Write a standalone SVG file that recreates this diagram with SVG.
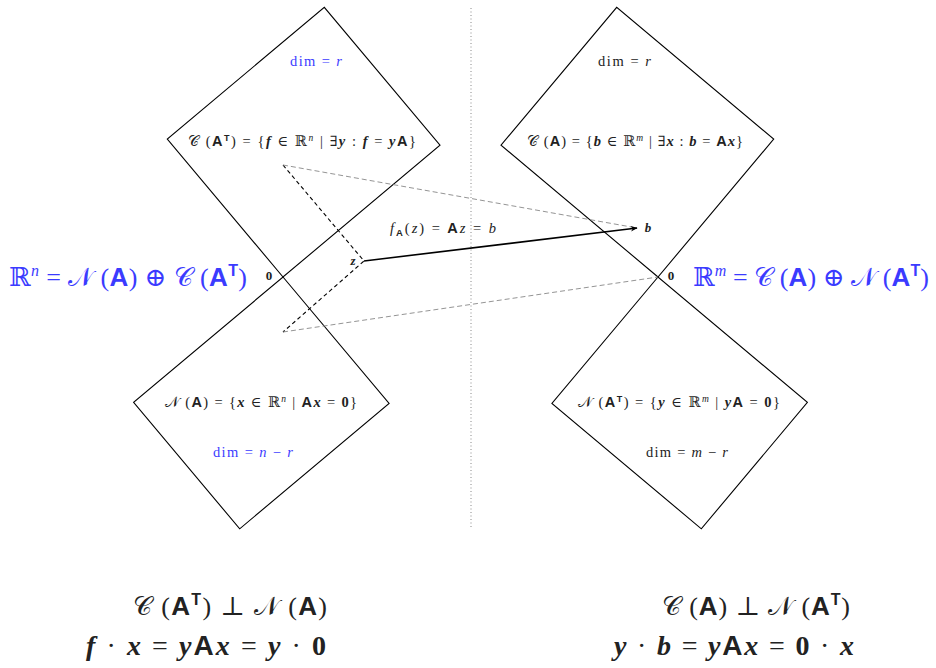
<svg xmlns="http://www.w3.org/2000/svg" width="936" height="668" viewBox="0 0 936 668">
<style>
.m{font-family:"Liberation Serif","DejaVu Serif",serif;fill:#222}
.b{fill:#3b3bff}
.A{font-family:"Liberation Sans","DejaVu Sans",sans-serif;font-weight:bold;font-style:normal}
.v{font-style:italic;font-weight:bold}
.i{font-style:italic}
.bd{font-weight:bold}
.shape{fill:none;stroke:#000;stroke-width:1.1}
</style>
<defs>
<marker id="ah" viewBox="0 0 10 10" refX="9" refY="5" markerWidth="7" markerHeight="7" orient="auto" markerUnits="userSpaceOnUse">
<path d="M0,1 L10,5 L0,9 L3,5 Z" fill="#000"/>
</marker>
</defs>
<rect width="936" height="668" fill="#fff"/>
<line x1="471" y1="8" x2="471" y2="528" stroke="#888" stroke-width="1" stroke-dasharray="1,2.5"/>

<g id="rowspace">
<polygon class="shape" points="283,277 167.3,139.1 324.3,7.3 440,145.2"/>
<text class="m b" x="316" y="66" font-size="14.5" text-anchor="middle" textLength="52" lengthAdjust="spacing">dim = <tspan class="i">r</tspan></text>
<text class="m" x="302" y="146" font-size="14.5" text-anchor="middle" textLength="228" lengthAdjust="spacing">𝒞 (<tspan class="A">A</tspan><tspan class="A" font-size="9" dy="-5">T</tspan><tspan dy="5">) = {</tspan><tspan class="v">f</tspan> ∈ ℝ<tspan class="i" font-size="9.5" dy="-5">n</tspan><tspan dy="5"> | ∃</tspan><tspan class="v">y</tspan> : <tspan class="v">f</tspan> = <tspan class="v">y</tspan><tspan class="A">A</tspan>}</text>
</g>

<g id="nullspace">
<polygon class="shape" points="283,277 389.1,403.4 239.7,528.8 133.6,402.4"/>
<text class="m" x="261" y="407" font-size="14.5" text-anchor="middle" textLength="192" lengthAdjust="spacing">𝒩 (<tspan class="A">A</tspan>) = {<tspan class="v">x</tspan> ∈ ℝ<tspan class="i" font-size="9.5" dy="-5">n</tspan><tspan dy="5"> | </tspan><tspan class="A">A</tspan><tspan class="v">x</tspan> = <tspan class="bd">0</tspan>}</text>
<text class="m b" x="253" y="457" font-size="14.5" text-anchor="middle" textLength="80" lengthAdjust="spacing">dim = <tspan class="i">n</tspan> − <tspan class="i">r</tspan></text>
</g>

<g id="colspace">
<polygon class="shape" points="658,277 501,145.2 616.7,7.3 773.7,139.1"/>
<text class="m" x="624.5" y="66" font-size="14.5" text-anchor="middle" textLength="53" lengthAdjust="spacing">dim = <tspan class="i">r</tspan></text>
<text class="m" x="635" y="146" font-size="14.5" text-anchor="middle" textLength="216" lengthAdjust="spacing">𝒞 (<tspan class="A">A</tspan>) = {<tspan class="v">b</tspan> ∈ ℝ<tspan class="i" font-size="9.5" dy="-5">m</tspan><tspan dy="5"> | ∃</tspan><tspan class="v">x</tspan> : <tspan class="v">b</tspan> = <tspan class="A">A</tspan><tspan class="v">x</tspan>}</text>
</g>

<g id="leftnullspace">
<polygon class="shape" points="658,277 551.9,403.4 701.3,528.8 807.4,402.4"/>
<text class="m" x="679" y="407" font-size="14.5" text-anchor="middle" textLength="202" lengthAdjust="spacing">𝒩 (<tspan class="A">A</tspan><tspan class="A" font-size="9" dy="-5">T</tspan><tspan dy="5">) = {</tspan><tspan class="v">y</tspan> ∈ ℝ<tspan class="i" font-size="9.5" dy="-5">m</tspan><tspan dy="5"> | </tspan><tspan class="v">y</tspan><tspan class="A">A</tspan> = <tspan class="bd">0</tspan>}</text>
<text class="m" x="687" y="457" font-size="14.5" text-anchor="middle" textLength="82" lengthAdjust="spacing">dim = <tspan class="i">m</tspan> − <tspan class="i">r</tspan></text>
</g>

<g id="origins">
<text class="m bd" x="269" y="280" font-size="13" text-anchor="middle">0</text>
<text class="m bd" x="671" y="280" font-size="13" text-anchor="middle">0</text>
<text class="m v" x="353" y="265" font-size="13" text-anchor="middle">z</text>
<text class="m v" x="648" y="232" font-size="13" text-anchor="middle">b</text>
</g>

<g id="domainlabel">
<text class="m b" x="128" y="286" font-size="26" text-anchor="middle" textLength="238" lengthAdjust="spacing">ℝ<tspan class="i" font-size="16" dy="-10">n</tspan><tspan dy="10"> = 𝒩 (</tspan><tspan class="A">A</tspan>) ⊕ 𝒞 (<tspan class="A">A</tspan><tspan class="A" font-size="16" dy="-10">T</tspan><tspan dy="10">)</tspan></text>
</g>
<g id="codomainlabel">
<text class="m b" x="811" y="286" font-size="26" text-anchor="middle" textLength="236" lengthAdjust="spacing">ℝ<tspan class="i" font-size="16" dy="-10">m</tspan><tspan dy="10"> = 𝒞 (</tspan><tspan class="A">A</tspan>) ⊕ 𝒩 (<tspan class="A">A</tspan><tspan class="A" font-size="16" dy="-10">T</tspan><tspan dy="10">)</tspan></text>
</g>

<g id="connectors">
<polyline points="283,165 364,261 283,332" fill="none" stroke="#000" stroke-width="1.1" stroke-dasharray="4,3"/>
<line x1="283" y1="165" x2="637" y2="228" stroke="#888" stroke-width="0.9" stroke-dasharray="5,3"/>
<line x1="283" y1="332" x2="658" y2="277" stroke="#888" stroke-width="0.9" stroke-dasharray="5,3"/>
<line x1="364" y1="261" x2="637" y2="228" stroke="#000" stroke-width="1.6" marker-end="url(#ah)"/>
<text class="m" x="443" y="233" font-size="14.5" text-anchor="middle" textLength="106" lengthAdjust="spacing"><tspan class="i">f</tspan><tspan class="A" font-size="9.5" dy="3">A</tspan><tspan dy="-3">(</tspan><tspan class="i">z</tspan>) = <tspan class="A">A</tspan><tspan class="i">z</tspan> = <tspan class="i">b</tspan></text>
</g>

<g id="orthogonality">
<text class="m" x="230" y="615" font-size="26" text-anchor="middle" textLength="194" lengthAdjust="spacing">𝒞 (<tspan class="A">A</tspan><tspan class="A" font-size="16" dy="-10">T</tspan><tspan dy="10">) ⊥ 𝒩 (</tspan><tspan class="A">A</tspan>)</text>
<text class="m" x="206" y="655" font-size="28" text-anchor="middle" textLength="240" lengthAdjust="spacing"><tspan class="v">f</tspan> · <tspan class="v">x</tspan> = <tspan class="v">y</tspan><tspan class="A">A</tspan><tspan class="v">x</tspan> = <tspan class="v">y</tspan> · <tspan class="bd">0</tspan></text>
<text class="m" x="756" y="615" font-size="26" text-anchor="middle" textLength="188" lengthAdjust="spacing">𝒞 (<tspan class="A">A</tspan>) ⊥ 𝒩 (<tspan class="A">A</tspan><tspan class="A" font-size="16" dy="-10">T</tspan><tspan dy="10">)</tspan></text>
<text class="m" x="734" y="655" font-size="28" text-anchor="middle" textLength="240" lengthAdjust="spacing"><tspan class="v">y</tspan> · <tspan class="v">b</tspan> = <tspan class="v">y</tspan><tspan class="A">A</tspan><tspan class="v">x</tspan> = <tspan class="bd">0</tspan> · <tspan class="v">x</tspan></text>
</g>
</svg>
